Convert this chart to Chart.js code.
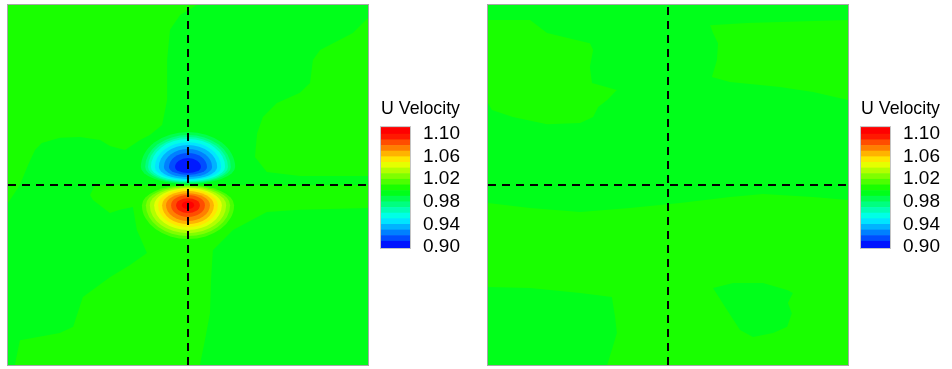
<!DOCTYPE html>
<html>
<head>
<meta charset="utf-8">
<script src="https://cdn.jsdelivr.net/npm/chart.js@4.4.1/dist/chart.umd.min.js"></script>
<style>
  html, body { margin: 0; padding: 0; background: #fff; width: 952px; height: 369px; overflow: hidden; }
  canvas { position: absolute; }
</style>
</head>
<body>
<canvas id="fieldLeft" width="376" height="369" style="left:0;top:0"></canvas>
<canvas id="barLeft" width="90" height="184" style="left:376px;top:90px"></canvas>
<canvas id="fieldRight" width="376" height="369" style="left:480px;top:0"></canvas>
<canvas id="barRight" width="90" height="184" style="left:856px;top:90px"></canvas>
<script>
// U velocity contours, two cases, domain scaled to 0..1
var legendTitle = 'U Velocity';
var legendTicks = [0.90, 0.94, 0.98, 1.02, 1.06, 1.10];
var bandEdges = [0.898, 0.91, 0.92, 0.93, 0.94, 0.95, 0.96, 0.97, 0.98, 0.99, 1.00,
                 1.01, 1.02, 1.03, 1.04, 1.05, 1.06, 1.07, 1.08, 1.09, 1.10, 1.1125];
var crossX = [0.5];
var crossY = [0.5];

// left case: background levels
var leftBase = 0.995;
var leftHighValue = 1.005;
var leftTopLeft = [[0,1],[0.525,1],[0.478,0.972],[0.45,0.931],[0.442,0.847],[0.442,0.736],[0.428,0.667],
  [0.394,0.639],[0.367,0.625],[0.325,0.597],[0.283,0.608],[0.256,0.625],[0.2,0.633],[0.144,0.631],
  [0.094,0.617],[0.075,0.597],[0.056,0.556],[0.033,0.5],[0,0.45]];
var leftTopRight = [[1,0.964],[0.958,0.922],[0.903,0.894],[0.867,0.875],[0.847,0.847],[0.839,0.783],
  [0.811,0.756],[0.747,0.728],[0.708,0.689],[0.692,0.644],[0.686,0.578],[0.719,0.536],[0.811,0.525],[1,0.525]];
var leftLower = [[0.242,0.5],[0.228,0.472],[0.236,0.458],[0.283,0.422],[0.311,0.431],[0.347,0.439],
  [0.358,0.375],[0.386,0.311],[0.339,0.278],[0.283,0.244],[0.208,0.189],[0.181,0.106],[0.144,0.089],
  [0.033,0.069],[0.019,0],[0.533,0],[0.547,0.069],[0.561,0.144],[0.564,0.236],[0.569,0.319],
  [0.625,0.375],[0.719,0.425],[0.811,0.431],[1,0.436],[1,0.5]];

// left case: low (blue) lobe above the centre
var lowCentre = [0.5, 0.55];
var lowLevels = [0.99, 0.98, 0.97, 0.96, 0.95, 0.94, 0.93, 0.92, 0.91];
var lowRx   = [0.131, 0.119, 0.111, 0.103, 0.092, 0.081, 0.067, 0.053, 0.036];
var lowUp   = [0.097, 0.089, 0.083, 0.078, 0.069, 0.061, 0.05, 0.039, 0.025];
var lowDown = [0.047, 0.044, 0.042, 0.039, 0.036, 0.033, 0.028, 0.022, 0.017];

// left case: high (red) lobe below the centre
var highCentre = [0.5, 0.444];
var highLevels = [1.01, 1.02, 1.03, 1.04, 1.05, 1.06, 1.07, 1.08, 1.09, 1.10];
var highRx   = [0.128, 0.117, 0.106, 0.094, 0.083, 0.072, 0.061, 0.047, 0.033, 0.017];
var highUp   = [0.056, 0.053, 0.05, 0.047, 0.044, 0.039, 0.033, 0.028, 0.019, 0.011];
var highDown = [0.094, 0.086, 0.078, 0.069, 0.061, 0.053, 0.044, 0.033, 0.022, 0.011];

// right case: background levels only
var rightBase = 0.995;
var rightHighValue = 1.005;
var rightTopLeft = [[0,0.958],[0.117,0.958],[0.164,0.922],[0.283,0.894],[0.292,0.875],[0.283,0.828],
  [0.289,0.783],[0.358,0.764],[0.331,0.736],[0.306,0.717],[0.292,0.689],[0.256,0.672],[0.164,0.669],
  [0.069,0.689],[0.011,0.708],[0,0.728]];
var rightTopRight = [[0.617,0.944],[0.719,0.95],[1,0.958],[1,0.736],[0.903,0.758],[0.811,0.772],
  [0.672,0.786],[0.622,0.8],[0.636,0.847],[0.639,0.894],[0.625,0.922]];
var rightLower = [[0,0.45],[0.117,0.436],[0.256,0.425],[0.394,0.436],[0.533,0.45],[0.672,0.467],
  [0.764,0.475],[0.903,0.467],[1,0.458],[1,0],[0,0]];
var rightPocketLeft = [[0,0.217],[0.117,0.214],[0.256,0.2],[0.344,0.189],[0.353,0.133],[0.358,0.089],
  [0.344,0.042],[0.331,0],[0,0]];
var rightPocketRight = [[0.625,0.214],[0.681,0.228],[0.764,0.228],[0.831,0.208],[0.847,0.2],[0.833,0.172],
  [0.844,0.144],[0.831,0.106],[0.792,0.089],[0.736,0.078],[0.7,0.097],[0.664,0.153]];

var FONT = 'Liberation Sans, Arial, Helvetica, sans-serif';

// rainbow map: blue - cyan - green - yellow - red over 0.90..1.10
function bandColor(v) {
  var t = Math.max(0, Math.min(1, (v - 0.90) / 0.20));
  var r = 0, g = 0, b = 0;
  if (t < 0.25) { g = t / 0.25; b = 1; }
  else if (t < 0.5) { g = 1; b = 1 - (t - 0.25) / 0.25; }
  else if (t < 0.75) { r = (t - 0.5) / 0.25; g = 1; }
  else { r = 1; g = 1 - (t - 0.75) / 0.25; }
  return 'rgb(' + Math.round(r * 255) + ',' + Math.round(g * 255) + ',' + Math.round(b * 255) + ')';
}

var fieldPlugin = {
  id: 'field',
  beforeDatasetsDraw: function (chart, args, opts) {
    var f = opts.field;
    if (!f) return;
    var ctx = chart.ctx, a = chart.chartArea, xs = chart.scales.x, ys = chart.scales.y;
    ctx.save();
    ctx.beginPath();
    ctx.rect(a.left, a.top, a.right - a.left, a.bottom - a.top);
    ctx.clip();
    ctx.fillStyle = bandColor(f.base);
    ctx.fillRect(a.left, a.top, a.right - a.left, a.bottom - a.top);
    f.regions.forEach(function (reg) {
      ctx.fillStyle = bandColor(reg.value);
      ctx.beginPath();
      reg.points.forEach(function (p, i) {
        var px = xs.getPixelForValue(p[0]), py = ys.getPixelForValue(p[1]);
        if (i) ctx.lineTo(px, py); else ctx.moveTo(px, py);
      });
      ctx.closePath();
      ctx.fill();
    });
    f.lobes.forEach(function (lobe) {
      var cx = xs.getPixelForValue(lobe.centre[0]), cy = ys.getPixelForValue(lobe.centre[1]);
      lobe.levels.forEach(function (lev, i) {
        var rx = xs.getPixelForValue(lobe.centre[0] + lobe.rx[i]) - cx;
        var ru = cy - ys.getPixelForValue(lobe.centre[1] + lobe.up[i]);
        var rd = ys.getPixelForValue(lobe.centre[1] - lobe.down[i]) - cy;
        ctx.fillStyle = bandColor(lev + lobe.side * 0.005);
        ctx.beginPath();
        ctx.ellipse(cx, cy, rx, ru, 0, Math.PI, 2 * Math.PI);
        ctx.ellipse(cx, cy, rx, rd, 0, 0, Math.PI);
        ctx.closePath();
        ctx.fill();
      });
    });
    ctx.restore();
  },
  afterDraw: function (chart) {
    var ctx = chart.ctx, a = chart.chartArea;
    ctx.save();
    ctx.strokeStyle = '#a8a8a8';
    ctx.lineWidth = 1;
    ctx.strokeRect(a.left - 0.5, a.top - 0.5, a.right - a.left + 1, a.bottom - a.top + 1);
    ctx.restore();
  }
};

var outlinePlugin = {
  id: 'outline',
  afterDatasetsDraw: function (chart) {
    var ctx = chart.ctx, a = chart.chartArea;
    ctx.save();
    ctx.strokeStyle = '#c4c4c4';
    ctx.lineWidth = 1;
    ctx.strokeRect(a.left - 0.5, a.top - 0.5, a.right - a.left + 1, a.bottom - a.top + 1);
    ctx.restore();
  }
};

function dashed(points) {
  return { data: points, borderColor: '#000', borderWidth: 2, borderDash: [8, 6],
           pointRadius: 0, fill: false, tension: 0 };
}

function fieldChart(id, field) {
  new Chart(document.getElementById(id), {
    type: 'line',
    data: {
      datasets: [
        dashed([{ x: crossX[0], y: 0 }, { x: crossX[0], y: 1 }]),
        dashed([{ x: 0, y: crossY[0] }, { x: 1, y: crossY[0] }])
      ]
    },
    options: {
      responsive: false,
      animation: false,
      layout: { padding: { left: 8, top: 5, right: 8, bottom: 4 } },
      scales: {
        x: { type: 'linear', min: 0, max: 1, display: false },
        y: { type: 'linear', min: 0, max: 1, display: false }
      },
      plugins: { legend: { display: false }, tooltip: { enabled: false }, field: { field: field } }
    },
    plugins: [fieldPlugin]
  });
}

function colourBar(id) {
  var sets = [];
  for (var i = 0; i < bandEdges.length - 1; i++) {
    sets.push({
      data: [[bandEdges[i], bandEdges[i + 1]]],
      backgroundColor: bandColor((bandEdges[i] + bandEdges[i + 1]) / 2),
      borderWidth: 0,
      grouped: false,
      barPercentage: 1,
      categoryPercentage: 1
    });
  }
  new Chart(document.getElementById(id), {
    type: 'bar',
    data: { labels: ['U'], datasets: sets },
    options: {
      responsive: false,
      animation: false,
      layout: { padding: { left: 5, right: 6, top: 0, bottom: 26 } },
      plugins: {
        legend: { display: false },
        tooltip: { enabled: false },
        title: {
          display: true, text: legendTitle, align: 'start', color: '#000',
          font: { family: FONT, size: 19, weight: 'normal', lineHeight: 1.2 },
          padding: { top: 7, bottom: 7.3 }
        }
      },
      scales: {
        x: { display: false },
        y: {
          position: 'right', min: bandEdges[0], max: bandEdges[bandEdges.length - 1],
          grid: { display: false, drawTicks: false },
          border: { display: false },
          afterBuildTicks: function (s) { s.ticks = legendTicks.map(function (v) { return { value: v }; }); },
          afterFit: function (s) { s.width = 50; },
          ticks: {
            padding: 13, color: '#000', autoSkip: false,
            font: { family: FONT, size: 19 },
            callback: function (v) { return Number(v).toFixed(2); }
          }
        }
      }
    },
    plugins: [outlinePlugin]
  });
}

fieldChart('fieldLeft', {
  base: leftBase,
  regions: [
    { value: leftHighValue, points: leftTopLeft },
    { value: leftHighValue, points: leftTopRight },
    { value: leftHighValue, points: leftLower }
  ],
  lobes: [
    { centre: lowCentre, levels: lowLevels, rx: lowRx, up: lowUp, down: lowDown, side: -1 },
    { centre: highCentre, levels: highLevels, rx: highRx, up: highUp, down: highDown, side: 1 }
  ]
});

fieldChart('fieldRight', {
  base: rightBase,
  regions: [
    { value: rightHighValue, points: rightTopLeft },
    { value: rightHighValue, points: rightTopRight },
    { value: rightHighValue, points: rightLower },
    { value: rightBase, points: rightPocketLeft },
    { value: rightBase, points: rightPocketRight }
  ],
  lobes: []
});

colourBar('barLeft');
colourBar('barRight');
</script>
</body>
</html>
